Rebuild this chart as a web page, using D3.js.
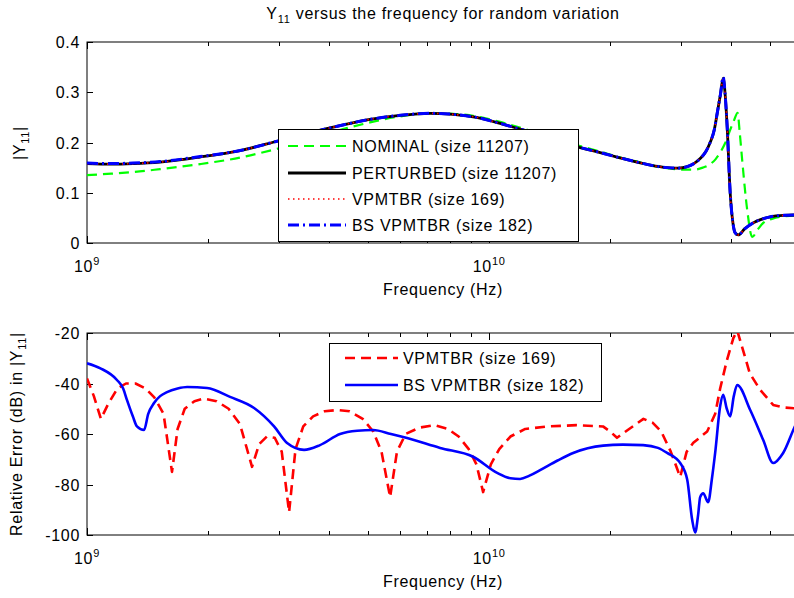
<!DOCTYPE html>
<html lang="en">
<head>
<meta charset="UTF-8">
<title>Y11 versus frequency</title>
<script src="https://d3js.org/d3.v7.min.js"></script>
<style>
  body { margin: 0; background: #fff; }
  svg text { font-family: "Liberation Sans", Arial, sans-serif; fill: #000; }
</style>
</head>
<body>
<svg id="chart" width="794" height="598"></svg>
<script>
    // frequencies in GHz
    const nominal = [[1.0,0.135],[1.15,0.138],[1.3,0.141],[1.519,0.147],[1.91,0.157],[2.403,0.17],[2.987,0.188],[3.5,0.203],[4.022,0.219],[5.058,0.24],[6.006,0.252],[7.135,0.258],[8.137,0.257],[9.3,0.252],[10.65,0.241],[12.0,0.229],[13.39,0.217],[15.0,0.205],[16.84,0.193],[18.89,0.182],[20.8,0.172],[22.81,0.164],[25.2,0.155],[27.72,0.149],[30.0,0.146],[32.3,0.146],[34.0,0.15],[35.46,0.157],[36.6,0.167],[37.55,0.18],[38.6,0.198],[39.77,0.225],[40.7,0.245],[41.5,0.259],[42.0,0.22],[42.6,0.165],[43.84,0.066],[45.11,0.012],[46.5,0.026],[48.05,0.04],[50.5,0.048],[53,0.052],[60,0.055]];
    const perturbed = [[1.0,0.158],[1.15,0.157],[1.3,0.158],[1.519,0.161],[1.91,0.171],[2.403,0.184],[2.987,0.203],[3.5,0.217],[4.022,0.229],[5.058,0.246],[6.006,0.254],[7.135,0.258],[8.137,0.256],[9.3,0.25],[10.65,0.238],[12.0,0.226],[13.39,0.214],[15.0,0.202],[16.84,0.19],[18.89,0.18],[20.8,0.171],[22.81,0.163],[25.2,0.155],[27.72,0.15],[29.5,0.149],[31.09,0.152],[32.3,0.158],[33.49,0.168],[34.6,0.182],[35.46,0.2],[36.3,0.225],[36.92,0.258],[37.6,0.295],[38.21,0.328],[38.6,0.3],[39.09,0.231],[39.77,0.1],[40.4,0.04],[40.93,0.02],[41.64,0.016],[43.2,0.028],[45.37,0.04],[47.5,0.047],[50.0,0.052],[54,0.055],[60,0.056]];
    const vpmtbr = [[1.0,0.158],[1.15,0.157],[1.3,0.158],[1.519,0.161],[1.91,0.171],[2.403,0.184],[2.987,0.203],[3.5,0.217],[4.022,0.229],[5.058,0.246],[6.006,0.254],[7.135,0.258],[8.137,0.256],[9.3,0.25],[10.65,0.238],[12.0,0.226],[13.39,0.214],[15.0,0.202],[16.84,0.19],[18.89,0.18],[20.8,0.171],[22.81,0.163],[25.2,0.155],[27.72,0.15],[29.5,0.149],[31.09,0.152],[32.3,0.158],[33.49,0.168],[34.6,0.182],[35.46,0.2],[36.3,0.225],[36.92,0.258],[37.6,0.295],[38.21,0.327],[38.6,0.3],[39.09,0.231],[39.77,0.1],[40.4,0.04],[40.93,0.02],[41.64,0.016],[43.2,0.028],[45.37,0.04],[47.5,0.047],[50.0,0.052],[54,0.055],[60,0.056]];
    const bsVpmtbr = [[1.0,0.159],[1.15,0.158],[1.3,0.159],[1.519,0.162],[1.91,0.172],[2.403,0.184],[2.987,0.203],[3.5,0.217],[4.022,0.229],[5.058,0.246],[6.006,0.254],[7.135,0.258],[8.137,0.256],[9.3,0.25],[10.65,0.238],[12.0,0.226],[13.39,0.214],[15.0,0.202],[16.84,0.19],[18.89,0.18],[20.8,0.171],[22.81,0.163],[25.2,0.155],[27.72,0.15],[29.5,0.149],[31.09,0.152],[32.3,0.158],[33.49,0.168],[34.6,0.182],[35.46,0.2],[36.3,0.225],[36.92,0.258],[37.6,0.295],[38.21,0.33],[38.6,0.3],[39.09,0.231],[39.77,0.1],[40.4,0.04],[40.93,0.02],[41.64,0.016],[43.2,0.028],[45.37,0.04],[47.5,0.047],[50.0,0.052],[54,0.055],[60,0.056]];

    const errVpmtbr = [[1.0,-38],[1.04,-45],[1.083,-54],[1.13,-48],[1.19,-42],[1.25,-40],[1.32,-40],[1.40,-42],[1.47,-45.5],[1.55,-52],[1.627,-75],[1.68,-58],[1.75,-50],[1.85,-47],[1.95,-46],[2.1,-47],[2.25,-50],[2.40,-56],[2.573,-73],[2.68,-64],[2.80,-61],[2.93,-61.5],[3.05,-67],[3.181,-91],[3.30,-66],[3.45,-57],[3.65,-53],[3.9,-51],[4.2,-50.5],[4.5,-51],[4.85,-54],[5.15,-59],[5.4,-67],[5.673,-85],[5.9,-67],[6.2,-60],[6.7,-57.5],[7.3,-56.5],[7.9,-58],[8.4,-61],[8.9,-66],[9.3,-72],[9.663,-83],[10.1,-72],[10.6,-66],[11.3,-61],[12.3,-58],[14,-57],[16.5,-56.5],[19.2,-57],[20.0,-59],[20.8,-61.5],[22.3,-58],[24.2,-54],[25.5,-55.5],[26.8,-59],[28.3,-67],[29.87,-77],[31.0,-67],[32.2,-63.5],[34.86,-59],[36.5,-52],[37.55,-42],[39.0,-31],[40.5,-22],[41.4,-19],[42.84,-27],[44.5,-36],[47.22,-42.5],[50.87,-48.5],[54,-49.5],[60,-50]];
    const errBs = [[1.0,-32],[1.08,-34],[1.187,-38.6],[1.23,-42],[1.257,-46.5],[1.30,-53],[1.331,-57],[1.386,-58.4],[1.42,-52],[1.468,-47.7],[1.52,-45],[1.581,-43.4],[1.68,-42],[1.774,-41.4],[1.989,-41.8],[2.268,-45.3],[2.603,-49.7],[2.919,-57],[3.145,-63.6],[3.466,-66.3],[3.797,-64.4],[4.259,-60],[4.7,-58.7],[5.146,-58.4],[5.7,-60],[6.252,-61.6],[7.553,-65.5],[9.125,-69],[10.47,-75.4],[11.3,-77.5],[11.94,-77.8],[12.6,-76.5],[13.39,-74.3],[14.8,-70.5],[16.18,-67.5],[19.21,-64.6],[21.5,-64.2],[24.16,-64.4],[26.3,-65.5],[27.72,-67.5],[29.87,-71.5],[31.09,-78],[31.99,-94],[32.54,-99],[33.1,-92],[33.49,-85],[34.07,-83.5],[35.06,-87],[35.8,-78],[36.49,-67.5],[37.55,-49],[38.21,-44.5],[39.0,-50],[39.77,-53],[40.6,-45],[41.4,-40.6],[44.6,-50.5],[48.05,-62.4],[50.87,-71.5],[53.86,-67.5],[58,-56],[60,-52]];

    const xMajorTicks = [1e9, 1e10];
    const xMinorTicks = [2e9, 3e9, 4e9, 5e9, 6e9, 7e9, 8e9, 9e9, 2e10, 3e10, 4e10, 5e10];
    const topYTicks = [0, 0.1, 0.2, 0.3, 0.4];
    const bottomYTicks = [-100, -80, -60, -40, -20];
    const topLegend = ["NOMINAL (size 11207)", "PERTURBED (size 11207)", "VPMTBR (size 169)", "BS VPMTBR (size 182)"];
    const bottomLegend = ["VPMTBR (size 169)", "BS VPMTBR (size 182)"];

    const svg = d3.select("#chart");
    const fontSize = 16;
    const spacing = "0.7px";

    const x = d3.scaleLog().domain([1e9, 6e10]).range([87, 802]);
    const yTop = d3.scaleLinear().domain([0, 0.4]).range([243, 42]);
    const yBot = d3.scaleLinear().domain([-100, -20]).range([535, 333]);

    // styles for each series
    const styles = {
        nominal: { color: "#00ff00", width: 2.2, dash: "10,6" },
        perturbed: { color: "#000000", width: 2.8, dash: null },
        vpmtbr: { color: "#ff0000", width: 1.6, dash: "1.5,3.5" },
        bs: { color: "#0000ff", width: 3, dash: "11,4,2,4" },
        errV: { color: "#ff0000", width: 2.6, dash: "10,6" },
        errB: { color: "#0000ff", width: 2.6, dash: null }
    };

    function drawAxes(yScale, yTicks, tickFmt, id) {
        const [y0, y1] = yScale.range();
        const g = svg.append("g");
        svg.append("clipPath").attr("id", id)
            .append("rect").attr("x", 87).attr("y", y1).attr("width", 715).attr("height", y0 - y1);

        g.append("rect")
            .attr("x", 87).attr("y", y1).attr("width", 715).attr("height", y0 - y1)
            .attr("fill", "#fff").attr("stroke", "#000").attr("stroke-width", 1);

        // x ticks, inside on bottom and top
        const allX = xMajorTicks.map(d => [d, 7]).concat(xMinorTicks.map(d => [d, 4]));
        allX.forEach(([v, len]) => {
            const px = Math.round(x(v)) + 0.5;
            g.append("line").attr("x1", px).attr("x2", px).attr("y1", y0).attr("y2", y0 - len).attr("stroke", "#000");
            g.append("line").attr("x1", px).attr("x2", px).attr("y1", y1).attr("y2", y1 + len).attr("stroke", "#000");
        });

        // y ticks
        yTicks.forEach(v => {
            const py = Math.round(yScale(v)) + 0.5;
            g.append("line").attr("x1", 87).attr("x2", 93).attr("y1", py).attr("y2", py).attr("stroke", "#000");
            g.append("text")
                .attr("x", 80).attr("y", py).attr("dy", "0.36em")
                .attr("text-anchor", "end")
                .style("font-size", fontSize + "px").style("letter-spacing", spacing)
                .text(tickFmt(v));
        });

        // x tick labels 10^n
        xMajorTicks.forEach(v => {
            const t = g.append("text")
                .attr("x", x(v)).attr("y", y0 + 29)
                .attr("text-anchor", "middle")
                .style("font-size", fontSize + "px").style("letter-spacing", spacing);
            t.append("tspan").text("10");
            t.append("tspan").attr("dy", -7).style("font-size", "11px").text(Math.round(Math.log10(v)));
        });

        g.append("text")
            .attr("x", 443).attr("y", y0 + 52)
            .attr("text-anchor", "middle")
            .style("font-size", fontSize + "px").style("letter-spacing", spacing)
            .text("Frequency (Hz)");
        return g;
    }

    function drawLine(data, yScale, st, clipId) {
        const line = d3.line()
            .x(d => x(d[0] * 1e9))
            .y(d => yScale(d[1]))
            .curve(st.curve || d3.curveLinear);
        svg.append("path")
            .datum(data)
            .attr("clip-path", `url(#${clipId})`)
            .attr("d", line)
            .attr("fill", "none")
            .attr("stroke", st.color)
            .attr("stroke-width", st.width)
            .attr("stroke-dasharray", st.dash)
            .attr("stroke-linejoin", "round");
    }

    function drawLegend(box, labels, sts, rowY) {
        const g = svg.append("g");
        g.append("rect")
            .attr("x", box.x + 0.5).attr("y", box.y + 0.5).attr("width", box.w).attr("height", box.h)
            .attr("fill", "#fff").attr("stroke", "#000").attr("stroke-width", 1);
        labels.forEach((lab, i) => {
            const yy = box.y + rowY[i];
            g.append("line")
                .attr("x1", box.lx1).attr("x2", box.lx2).attr("y1", yy).attr("y2", yy)
                .attr("stroke", sts[i].color).attr("stroke-width", sts[i].width)
                .attr("stroke-dasharray", sts[i].dash);
            g.append("text")
                .attr("x", box.tx).attr("y", yy).attr("dy", "0.36em")
                .style("font-size", fontSize + "px").style("letter-spacing", spacing)
                .text(lab);
        });
    }

    // ---- title
    const title = svg.append("text")
        .attr("x", 443).attr("y", 19)
        .attr("text-anchor", "middle")
        .style("font-size", "16px").style("letter-spacing", spacing);
    title.append("tspan").text("Y");
    title.append("tspan").attr("dy", 4).style("font-size", "11px").text("11");
    title.append("tspan").attr("dy", -4).text(" versus the frequency for random variation");

    // ---- top plot
    drawAxes(yTop, topYTicks, d => d === 0 ? "0" : d3.format(".1f")(d), "clipTop");
    const smooth = d3.curveMonotoneX;
    drawLine(nominal, yTop, { ...styles.nominal, curve: smooth }, "clipTop");
    drawLine(perturbed, yTop, { ...styles.perturbed, curve: smooth }, "clipTop");
    drawLine(vpmtbr, yTop, { ...styles.vpmtbr, curve: smooth }, "clipTop");
    drawLine(bsVpmtbr, yTop, { ...styles.bs, curve: smooth }, "clipTop");

    const ylabTop = svg.append("text")
        .attr("transform", "translate(25,143) rotate(-90)")
        .attr("text-anchor", "middle")
        .style("font-size", fontSize + "px").style("letter-spacing", spacing);
    ylabTop.append("tspan").text("|Y");
    ylabTop.append("tspan").attr("dy", 4).style("font-size", "11px").text("11");
    ylabTop.append("tspan").attr("dy", -4).text("|");

    drawLegend({ x: 278, y: 129, w: 300, h: 112, lx1: 288, lx2: 346, tx: 352 },
        topLegend, [styles.nominal, styles.perturbed, styles.vpmtbr, styles.bs], [17, 44, 70, 96]);

    // ---- bottom plot
    drawAxes(yBot, bottomYTicks, d => d3.format("d")(d).replace("\u2212", "-"), "clipBot");
    drawLine(errVpmtbr, yBot, styles.errV, "clipBot");
    drawLine(errBs, yBot, { ...styles.errB, curve: smooth }, "clipBot");

    const ylabBot = svg.append("text")
        .attr("transform", "translate(22,434) rotate(-90)")
        .attr("text-anchor", "middle")
        .style("font-size", fontSize + "px").style("letter-spacing", spacing);
    ylabBot.append("tspan").text("Relative Error (dB) in |Y");
    ylabBot.append("tspan").attr("dy", 4).style("font-size", "11px").text("11");
    ylabBot.append("tspan").attr("dy", -4).text("|");

    drawLegend({ x: 329, y: 343, w: 272, h: 58, lx1: 345, lx2: 398, tx: 403 },
        bottomLegend, [styles.errV, styles.errB], [15, 42]);
</script>
</body>
</html>
